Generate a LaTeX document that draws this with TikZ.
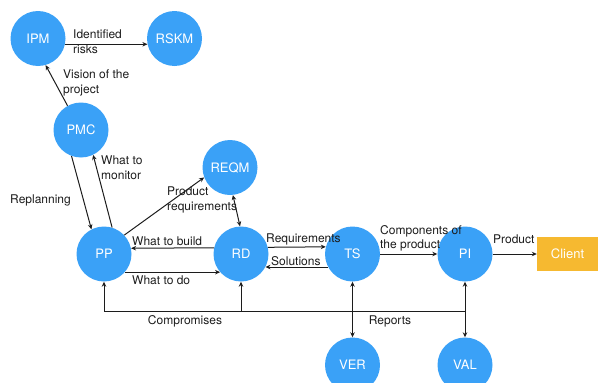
\documentclass[tikz,border=0pt]{standalone}
\usepackage{fontspec}
\setmainfont{TeX Gyre Heros}
\usetikzlibrary{arrows.meta,calc}
\definecolor{procblue}{RGB}{58,161,247}
\definecolor{clientorange}{RGB}{246,185,48}
\definecolor{inkgray}{RGB}{28,28,28}
\begin{document}
\begin{tikzpicture}[x=1pt,y=-1pt,
  proc/.style={circle,fill=procblue,text=white,minimum size=55pt,inner sep=0pt,
    font=\fontsize{13}{15}\selectfont},
  party/.style={rectangle,fill=clientorange,text=white,minimum width=61pt,
    minimum height=34pt,inner sep=0pt,font=\fontsize{13}{15}\selectfont},
  flow/.style={draw=inkgray,line width=1pt,-{Stealth[length=5pt,width=4.5pt]}},
  both/.style={draw=inkgray,line width=1pt,{Stealth[length=5pt,width=4.5pt]}-{Stealth[length=5pt,width=4.5pt]}},
  bus/.style={draw=inkgray,line width=1pt},
  lbl/.style={text=inkgray,inner sep=0pt,align=left,
    font=\fontsize{12}{14.5}\selectfont},
]
\useasboundingbox (0,0) rectangle (598,383);

% process areas
\node[proc] (IPM)  at (38,38.5)   {IPM};
\node[proc] (RSKM) at (174.5,38.5) {RSKM};
\node[proc] (PMC)  at (81,130)    {PMC};
\node[proc] (REQM) at (230,167.5) {REQM};
\node[proc] (PP)   at (104,254)   {PP};
\node[proc] (RD)   at (241,254)   {RD};
\node[proc] (TS)   at (352.5,254) {TS};
\node[proc] (PI)   at (465,254)   {PI};
\node[proc] (VER)  at (352.5,365) {VER};
\node[proc] (VAL)  at (465,365)   {VAL};
\node[party] (Client) at (567.5,254) {Client};

% information flows
\draw[flow] (IPM.-12) -- (RSKM.192);
\node[lbl,anchor=north west] (lrisk) at (73,30) {Identified\\risks};

\draw[flow] (PMC.119) -- (IPM.-74);
\node[lbl,anchor=north west] (lvision) at (63,70) {Vision of the\\project};

\draw[flow] (PMC.-110) -- (PP.117);
\node[lbl,anchor=west] (lreplan) at (10,200) {Replanning};

\draw[flow] (PP.73) -- (PMC.-64);
\node[lbl,anchor=north west] (lmonitor) at (101,156) {What to\\monitor};

\draw[flow] (PP.43) -- (REQM.201);
\node[lbl,anchor=north west] (lprodreq) at (167,187) {Product\\requirements};

\draw[both] (REQM.-84) -- (RD.92);

\draw[flow] (RD.167.4) -- (PP.12.6);
\node[lbl,anchor=west] (lbuild) at (132,241) {What to build};

\draw[flow] (PP.-41) -- (RD.221);
\node[lbl,anchor=west] (ldo) at (132,280) {What to do};

\draw[flow] (RD.14.7) -- (TS.165.3);
\node[lbl,anchor=west] (lreq) at (266,239) {Requirements};

\draw[flow] (TS.208) -- (RD.-28);
\node[lbl,anchor=west] (lsol) at (271,261) {Solutions};

\draw[flow] (TS.east) -- (PI.west);
\node[lbl,anchor=north west] (lcomp) at (380,225) {Components of\\the product};

\draw[flow] (PI.east) -- (Client.west);
\node[lbl,anchor=west] (lprod) at (493,239) {Product};

\draw[both] (TS.south) -- (VER.north);
\draw[both] (PI.south) -- (VAL.north);

% feedback bus along the bottom
\coordinate (busR) at (465,311);
\coordinate (busL) at (104,311);
\draw[bus] (busR) -- (busL);
\draw[flow] (busL) -- (PP.south);
\draw[flow] (RD.south |- busL) -- (RD.south);
\node[lbl] (lcomprom) at (185,321) {Compromises};
\node[lbl] (lreports) at (390,321) {Reports};
\end{tikzpicture}
\end{document}
